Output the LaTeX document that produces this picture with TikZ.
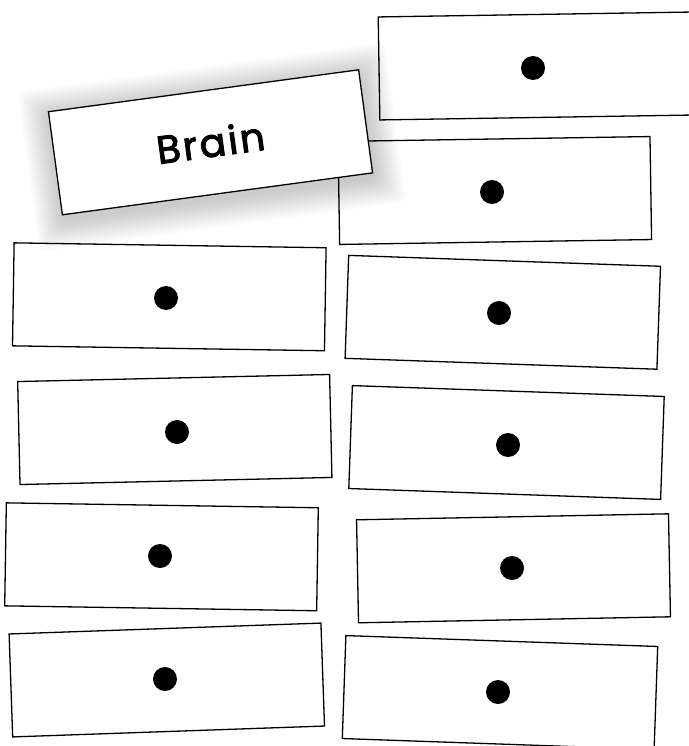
\documentclass[tikz,border=0pt]{standalone}
\usepackage{fontspec}
\newfontfamily\brainfont[LetterSpace=6,FakeBold=2.5]{Poppins}
\begin{document}
\begin{tikzpicture}[x=1pt,y=-1pt,
  card/.style={draw=black, line width=1.3pt, fill=white, minimum width=312pt, minimum height=103pt, inner sep=0pt, outer sep=0pt},
  dot/.style={circle, fill=black, minimum size=24pt, inner sep=0pt},
  shadelayer/.style={fill=black, fill opacity=0.011, draw=none, rounded corners=8pt}
]
\useasboundingbox (0,0) rectangle (688,746);
% left column
\node[card, rotate=-0.9] (l1) at (169.3,296.8) {};
\node[card, rotate=1.3]  (l2) at (174.8,429.5) {};
\node[card, rotate=-0.9] (l3) at (161.5,556.8) {};
\node[card, rotate=2.0]  (l4) at (166.8,680) {};
% right column
\node[card, rotate=0.9]  (r1) at (535,66) {};
\node[card, rotate=0.9]  (r2) at (494.8,190.5) {};
\node[card, rotate=-2.0] (r3) at (502.8,312.3) {};
\node[card, rotate=-2.0] (r4) at (506.5,442.5) {};
\node[card, rotate=1.1]  (r5) at (513.5,568.3) {};
\node[card, rotate=-2.0] (r6) at (500,692.5) {};
% dots
\node[dot] (l1d) at (166,298) {};
\node[dot] (l2d) at (177,432) {};
\node[dot] (l3d) at (160,556) {};
\node[dot] (l4d) at (165,679) {};
\node[dot] (r1d) at (533,68) {};
\node[dot] (r2d) at (492,192) {};
\node[dot] (r3d) at (499,313) {};
\node[dot] (r4d) at (508,445) {};
\node[dot] (r5d) at (512,568) {};
\node[dot] (r6d) at (498,692) {};
% soft shadow of the Brain card
\foreach \i in {1,...,18}{
  \pgfmathsetmacro{\sw}{156.5+1.6*\i}
  \pgfmathsetmacro{\sh}{52+1.6*\i}
  \fill[shadelayer, rotate around={7.7:(212,147)}] (212-\sw,147-\sh) rectangle (212+\sw,147+\sh);
}
% Brain card
\node[card, minimum width=313pt, minimum height=104pt, rotate=7.7, font=\brainfont\fontsize{39}{43}\selectfont] (brain) at (210.5,142.3) {Brain};
\end{tikzpicture}
\end{document}
